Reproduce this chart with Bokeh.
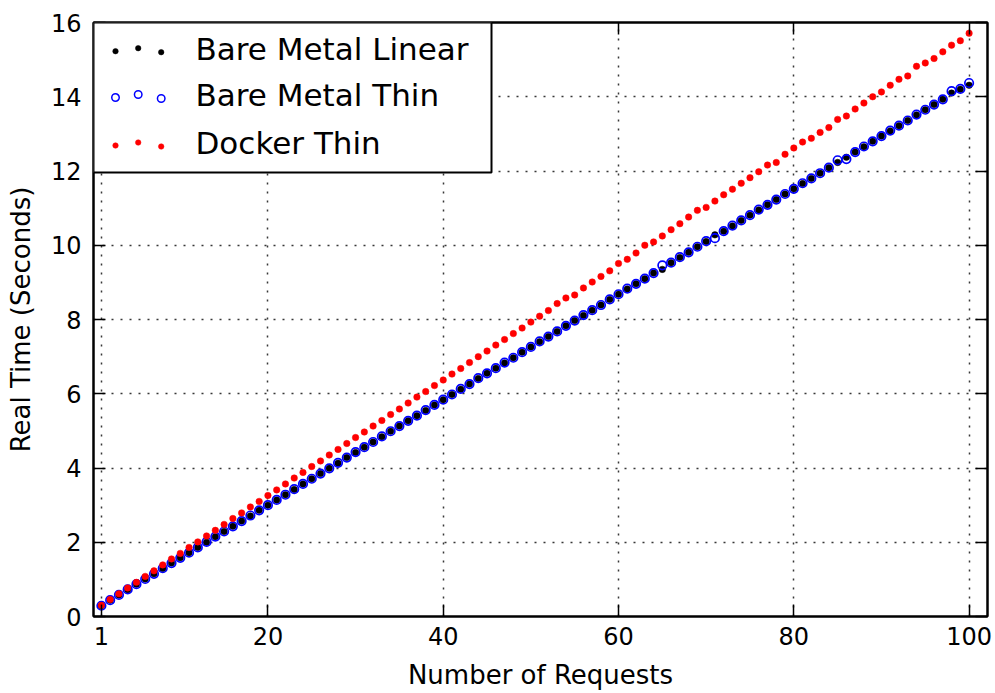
from bokeh.plotting import figure
from bokeh.models import Range1d, LinearAxis, FixedTicker, BoxAnnotation, Label, ColumnDataSource, CustomJSTickFormatter
from bokeh.embed import file_html
from bokeh.resources import INLINE

# ---------------- data ----------------
requests = list(range(1, 101))

bare_metal_linear = [
    0.29, 0.44, 0.58, 0.72, 0.87, 1.01, 1.15, 1.29, 1.44, 1.58,
    1.72, 1.86, 2.00, 2.15, 2.29, 2.43, 2.57, 2.71, 2.86, 3.00,
    3.14, 3.28, 3.42, 3.57, 3.71, 3.85, 3.99, 4.13, 4.28, 4.42,
    4.56, 4.70, 4.84, 4.99, 5.13, 5.27, 5.41, 5.55, 5.70, 5.84,
    5.98, 6.12, 6.26, 6.41, 6.55, 6.69, 6.83, 6.97, 7.12, 7.26,
    7.40, 7.54, 7.68, 7.83, 7.97, 8.11, 8.25, 8.39, 8.54, 8.68,
    8.82, 8.96, 9.10, 9.25, 9.35, 9.53, 9.67, 9.81, 9.96, 10.10,
    10.28, 10.38, 10.52, 10.67, 10.81, 10.95, 11.09, 11.23, 11.38, 11.52,
    11.66, 11.80, 11.94, 12.09, 12.23, 12.37, 12.51, 12.65, 12.80, 12.94,
    13.08, 13.22, 13.36, 13.51, 13.65, 13.79, 13.93, 14.10, 14.20, 14.31,
]

bare_metal_thin = [
    0.29, 0.44, 0.58, 0.73, 0.87, 1.01, 1.15, 1.30, 1.44, 1.58,
    1.72, 1.86, 2.01, 2.15, 2.29, 2.43, 2.57, 2.72, 2.86, 3.00,
    3.14, 3.28, 3.43, 3.57, 3.71, 3.85, 3.99, 4.14, 4.28, 4.43,
    4.56, 4.70, 4.85, 4.99, 5.13, 5.27, 5.41, 5.56, 5.70, 5.84,
    5.98, 6.13, 6.26, 6.42, 6.55, 6.69, 6.84, 6.97, 7.12, 7.26,
    7.41, 7.54, 7.68, 7.83, 7.97, 8.12, 8.25, 8.39, 8.54, 8.68,
    8.83, 8.96, 9.10, 9.25, 9.46, 9.53, 9.68, 9.81, 9.96, 10.11,
    10.19, 10.38, 10.53, 10.67, 10.81, 10.96, 11.09, 11.23, 11.38, 11.52,
    11.67, 11.80, 11.94, 12.09, 12.29, 12.32, 12.51, 12.66, 12.80, 12.94,
    13.09, 13.22, 13.36, 13.52, 13.65, 13.79, 13.93, 14.15, 14.21, 14.37,
]

docker_thin = [
    0.30, 0.46, 0.61, 0.77, 0.92, 1.08, 1.23, 1.39, 1.55, 1.70,
    1.86, 2.01, 2.17, 2.32, 2.48, 2.64, 2.79, 2.95, 3.10, 3.26,
    3.41, 3.57, 3.73, 3.88, 4.04, 4.19, 4.35, 4.50, 4.66, 4.82,
    4.97, 5.13, 5.28, 5.44, 5.59, 5.75, 5.91, 6.06, 6.22, 6.37,
    6.53, 6.68, 6.84, 7.00, 7.15, 7.31, 7.46, 7.62, 7.77, 7.93,
    8.09, 8.24, 8.43, 8.58, 8.66, 8.85, 9.01, 9.16, 9.31, 9.51,
    9.62, 9.79, 10.00, 10.09, 10.25, 10.42, 10.58, 10.76, 10.94, 11.02,
    11.19, 11.36, 11.51, 11.67, 11.82, 11.98, 12.16, 12.23, 12.45, 12.62,
    12.78, 12.88, 13.04, 13.17, 13.39, 13.48, 13.67, 13.83, 14.00, 14.13,
    14.31, 14.47, 14.56, 14.82, 14.91, 15.03, 15.21, 15.39, 15.51, 15.71,
]

series_names = ["Bare Metal Linear", "Bare Metal Thin", "Docker Thin"]
x_ticks = [1, 20, 40, 60, 80, 100]
y_ticks = [0, 2, 4, 6, 8, 10, 12, 14, 16]

# ---------------- layout ----------------
W, H = 995, 693
FL, FR, FT, FB = 93, 987, 22, 616      # frame edges in pixels
X0, X1 = 0.1, 102.1
Y0, Y1 = 0, 16
FONT = "DejaVu Sans"


def px2x(px):
    return X0 + (px - FL) / (FR - FL) * (X1 - X0)


def py2y(py):
    return Y0 + (FB - py) / (FB - FT) * (Y1 - Y0)


p = figure(width=W, height=H, output_backend="svg", toolbar_location=None,
           x_range=Range1d(X0, X1), y_range=Range1d(Y0, Y1),
           min_border_left=FL, min_border_right=W - FR,
           min_border_top=FT, min_border_bottom=H - FB)

p.background_fill_color = "white"
p.border_fill_color = "white"
p.outline_line_color = "black"
p.outline_line_width = 2

# axes
for ax in (p.xaxis[0], p.yaxis[0]):
    ax.axis_line_color = "black"
    ax.axis_line_width = 2
    ax.major_tick_in = 12
    ax.major_tick_out = 0
    ax.major_tick_line_color = "black"
    ax.major_tick_line_width = 1.5
    ax.minor_tick_line_color = None
    ax.major_label_text_font = FONT
    ax.major_label_text_font_size = "24px"
    ax.major_label_text_color = "black"
    ax.axis_label_text_font = FONT
    ax.axis_label_text_font_size = "26px"
    ax.axis_label_text_font_style = "normal"
    ax.axis_label_text_color = "black"

p.xaxis.ticker = FixedTicker(ticks=x_ticks)
p.yaxis.ticker = FixedTicker(ticks=y_ticks)
p.xaxis.axis_label = "Number of Requests"
p.yaxis.axis_label = "Real Time (Seconds)"
p.xaxis.major_label_standoff = 10
p.yaxis.major_label_standoff = 12
p.xaxis.axis_label_standoff = 12
p.yaxis.axis_label_standoff = 12

empty_fmt = CustomJSTickFormatter(code="return ''")
top_axis = LinearAxis(ticker=FixedTicker(ticks=x_ticks), formatter=empty_fmt,
                      major_tick_in=12, major_tick_out=0, minor_tick_line_color=None,
                      major_tick_line_width=1.5, axis_line_width=2,
                      major_label_text_font_size="0px", major_label_standoff=0)
right_axis = LinearAxis(ticker=FixedTicker(ticks=y_ticks), formatter=empty_fmt,
                        major_tick_in=12, major_tick_out=0, minor_tick_line_color=None,
                        major_tick_line_width=1.5, axis_line_width=2,
                        major_label_text_font_size="0px", major_label_standoff=0)
p.add_layout(top_axis, "above")
p.add_layout(right_axis, "right")

# grid
for g in (p.xgrid[0], p.ygrid[0]):
    g.grid_line_color = "#222222"
    g.grid_line_width = 1.5
    g.grid_line_dash = "2 7"
    g.grid_line_alpha = 0.9
p.xgrid.ticker = FixedTicker(ticks=x_ticks)
p.ygrid.ticker = FixedTicker(ticks=y_ticks)

# data
src = ColumnDataSource(dict(x=requests, bml=bare_metal_linear,
                            bmt=bare_metal_thin, dt=docker_thin))
p.scatter("x", "bml", source=src, size=6.5, marker="circle",
          fill_color="black", line_color="black", line_width=0.5)
p.scatter("x", "bmt", source=src, size=8.5, marker="circle",
          fill_color=None, line_color="blue", line_width=1.7)
p.scatter("x", "dt", source=src, size=6.5, marker="circle",
          fill_color="red", line_color="red", line_width=0.5)

# ---------------- legend (drawn manually, 3 markers per entry) ----------------
box = BoxAnnotation(left=px2x(FL), right=px2x(491), top=Y1, bottom=py2y(172),
                    fill_color="white", fill_alpha=1.0,
                    line_color="black", line_width=2, line_alpha=1.0)
p.add_layout(box)

marker_px_x = [115, 137.7, 160.7]
marker_dy = [0, -3, 1]
row_marker_py = [50.7, 97.0, 145.0]
row_text_py = [48.3, 94.0, 142.0]
styles = [
    dict(size=5.5, fill_color="black", line_color="black", line_width=0.5),
    dict(size=7.5, fill_color=None, line_color="blue", line_width=1.5),
    dict(size=5.5, fill_color="red", line_color="red", line_width=0.5),
]
for i, name in enumerate(series_names):
    lx = [px2x(mx) for mx in marker_px_x]
    ly = [py2y(row_marker_py[i] + d) for d in marker_dy]
    r = p.scatter(lx, ly, marker="circle", **styles[i])
    r.level = "overlay"
    lab = Label(x=px2x(195), y=py2y(row_text_py[i]), text=name,
                text_font=FONT, text_font_size="31px", text_color="black",
                text_baseline="middle", text_align="left")
    lab.level = "overlay"
    p.add_layout(lab)

open("out.html", "w").write(file_html(p, INLINE))
